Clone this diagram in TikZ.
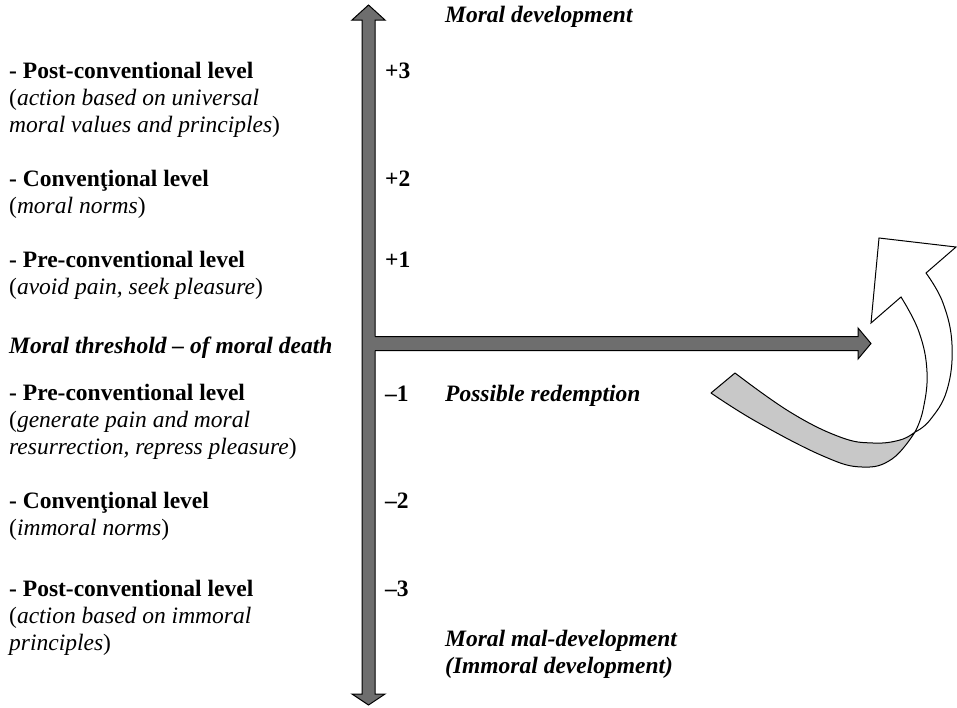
\documentclass[tikz,border=0pt]{standalone}
\usepackage{fontspec}
\setmainfont{Liberation Serif}
\definecolor{arrowgray}{RGB}{110,110,110}
\definecolor{tailgray}{RGB}{200,200,200}
\begin{document}
\begin{tikzpicture}[x=1pt,y=-1pt,
  lbl/.style={anchor=base west, inner sep=0pt, font=\fontsize{23.5}{27}\selectfont},
  bl/.style={lbl, font=\fontsize{23.5}{27}\selectfont\bfseries},
  bi/.style={lbl, font=\fontsize{23.5}{27}\selectfont\bfseries\itshape},
  outl/.style={draw=black, line width=1pt, line join=miter}]
\useasboundingbox (0,0) rectangle (957,707);

% vertical double arrow
\filldraw[fill=arrowgray, outl] (362,20) -- (352,20) -- (368.5,5) -- (385,20) -- (375,20)
  -- (375,694) -- (385,694) -- (368.5,705) -- (352,694) -- (362,694) -- cycle;
% horizontal arrow
\fill[arrowgray] (374,336.5) -- (858,336.5) -- (858,328) -- (871,343.5) -- (858,359) -- (858,350.5) -- (374,350.5) -- cycle;
\draw[outl] (375,336.5) -- (858,336.5) -- (858,328) -- (871,343.5) -- (858,359) -- (858,350.5) -- (375,350.5);

% curved redemption arrow: grey back part
\filldraw[fill=tailgray, outl, line join=round] (735,373) -- (711,393)
  -- plot[smooth, tension=0.7] coordinates {(711,393) (757,422) (823,456) (862,467) (892,459) (915,432)}
  -- plot[smooth, tension=0.7] coordinates {(915,432) (900,440) (873,443) (840,437) (790,412) (735,373)}
  -- cycle;
% white front part with head
\filldraw[fill=white, outl] (915,432)
  -- plot[smooth, tension=0.7] coordinates {(915,432) (923,410) (927,372) (919,332) (901,297)}
  -- (871,323) -- (879,238) -- (956,247) -- (926,273)
  -- plot[smooth, tension=0.7] coordinates {(926,273) (943,303) (952,345) (947,390) (930,420) (915,432)}
  -- cycle;

% left column
\node[bl]  (p3a) at (9,78)  {- Post-conventional level};
\node[lbl] (p3b) at (9,105) {(\textit{action based on universal}};
\node[lbl] (p3c) at (9,132) {\textit{moral values and principles})};
\node[bl]  (p2a) at (9,186) {- Convenţional level};
\node[lbl] (p2b) at (9,213) {(\textit{moral norms})};
\node[bl]  (p1a) at (9,267) {- Pre-conventional level};
\node[lbl] (p1b) at (9,294) {(\textit{avoid pain, seek pleasure})};
\node[bi]  (thr) at (9,353) {Moral threshold – of moral death};
\node[bl]  (m1a) at (9,400) {- Pre-conventional level};
\node[lbl] (m1b) at (9,427) {(\textit{generate pain and moral}};
\node[lbl] (m1c) at (9,454) {\textit{resurrection, repress pleasure})};
\node[bl]  (m2a) at (9,508) {- Convenţional level};
\node[lbl] (m2b) at (9,535) {(\textit{immoral norms})};
\node[bl]  (m3a) at (9,596) {- Post-conventional level};
\node[lbl] (m3b) at (9,623) {(\textit{action based on immoral}};
\node[lbl] (m3c) at (9,650) {\textit{principles})};

% scale numbers
\node[bl] (n3)  at (385,78)  {+3};
\node[bl] (n2)  at (385,186) {+2};
\node[bl] (n1)  at (385,267) {+1};
\node[bl] (nm1) at (385,401) {–1};
\node[bl] (nm2) at (385,508) {–2};
\node[bl] (nm3) at (385,596) {–3};

% right texts
\node[bi] (dev)  at (445,22)  {Moral development};
\node[bi] (red)  at (445,401) {Possible redemption};
\node[bi] (mal1) at (445,646) {Moral mal-development};
\node[bi] (mal2) at (445,673) {(Immoral development)};
\end{tikzpicture}
\end{document}
